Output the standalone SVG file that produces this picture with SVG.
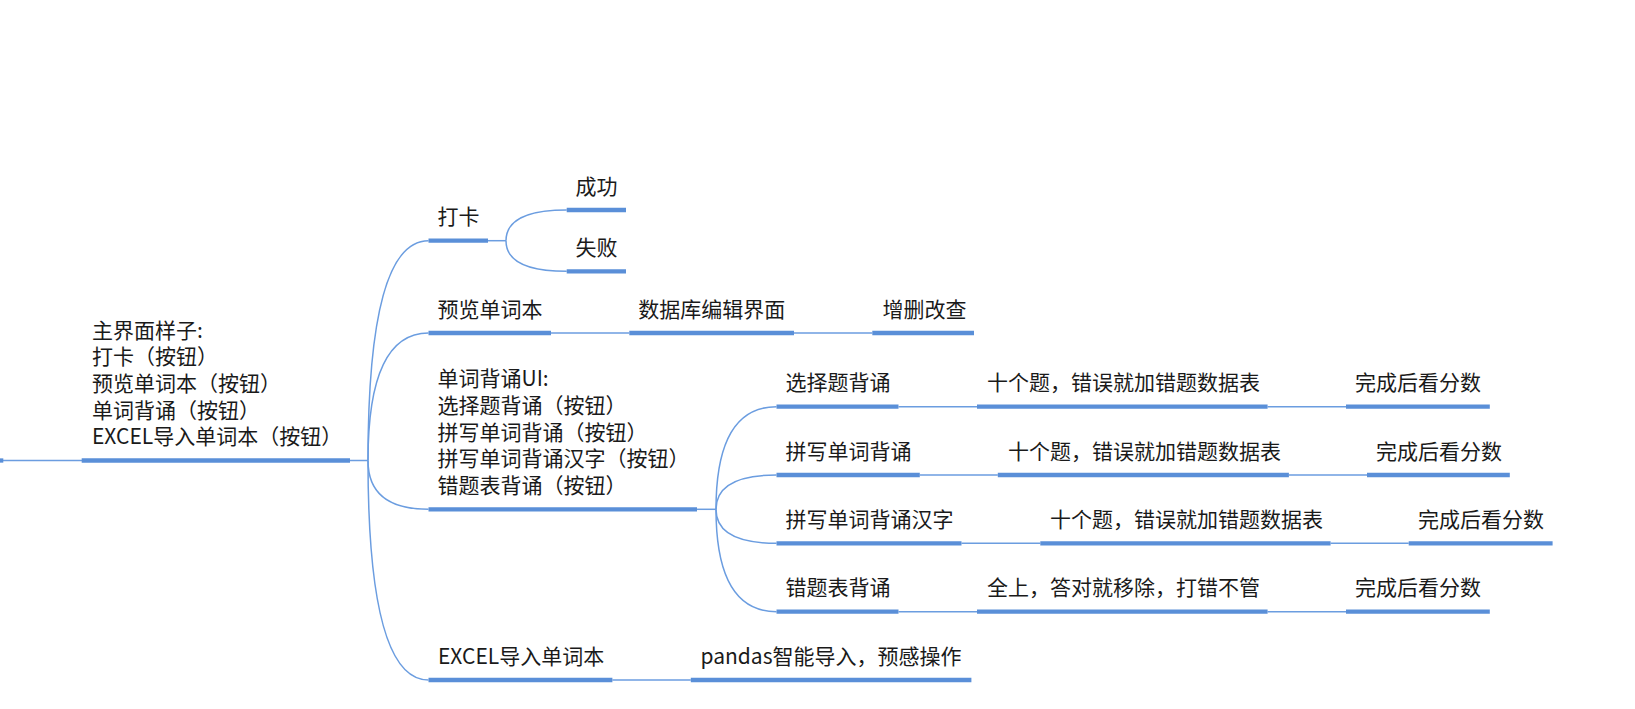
<svg xmlns="http://www.w3.org/2000/svg" width="1635" height="709" viewBox="0 0 1635 709">
<style>
.bar{stroke:#5a8fd8;stroke-width:4.3;fill:none}
.con{stroke:#6b9de0;stroke-width:1.5;fill:none}
text{font-family:"Noto Sans CJK SC","Microsoft YaHei","Noto Sans",sans-serif;font-size:21px;fill:#1a1a1a}
</style>
<rect width="1635" height="709" fill="#ffffff"/>
<g id="connectors">
<path class="con" d="M0,460.5 H368"/>
<path class="con" d="M368,460.5 Q368,240.7 428.5,240.7"/>
<path class="con" d="M368,460.5 Q368,333 428.5,333"/>
<path class="con" d="M368,460.5 Q368,509.3 428.5,509.3"/>
<path class="con" d="M368,460.5 Q368,680 428.5,680"/>
<path class="con" d="M488,240.7 H506"/>
<path class="con" d="M506,240.7 Q506,210 566.7,210"/>
<path class="con" d="M506,240.7 Q506,271.3 566.7,271.3"/>
<path class="con" d="M551,333 H629.3"/>
<path class="con" d="M794,333 H872.3"/>
<path class="con" d="M697,509.3 H716"/>
<path class="con" d="M716,509.3 Q716,406.7 776.5,406.7"/>
<path class="con" d="M716,509.3 Q716,475 776.5,475"/>
<path class="con" d="M716,509.3 Q716,543.3 776.5,543.3"/>
<path class="con" d="M716,509.3 Q716,611.7 776.5,611.7"/>
<path class="con" d="M898.5,406.7 H977"/>
<path class="con" d="M1267.6,406.7 H1346"/>
<path class="con" d="M919.8,475 H997.8"/>
<path class="con" d="M1288.9,475 H1367"/>
<path class="con" d="M961.5,543.3 H1040.3"/>
<path class="con" d="M1330.6,543.3 H1408.7"/>
<path class="con" d="M898.5,611.7 H977"/>
<path class="con" d="M1267.6,611.7 H1346"/>
<path class="con" d="M612.4,680 H690.8"/>
</g>
<g id="parent-stub"><path class="bar" d="M0,460.5 H3.3"/></g>
<g id="root">
<path class="bar" d="M81.7,460.5 H350"/>
<text x="92" y="337.5"><tspan x="92" y="337.5">主界面样子:</tspan><tspan x="92" dy="26.67">打卡（按钮）</tspan><tspan x="92" dy="26.67">预览单词本（按钮）</tspan><tspan x="92" dy="26.67">单词背诵（按钮）</tspan><tspan x="92" dy="26.67">EXCEL导入单词本（按钮）</tspan></text>
</g>
<g id="daka">
<path class="bar" d="M428.5,240.7 H488"/>
<text x="437.5" y="224.4">打卡</text>
</g>
<g id="chenggong">
<path class="bar" d="M566.7,210 H626"/>
<text x="575.5" y="193.7">成功</text>
</g>
<g id="shibai">
<path class="bar" d="M566.7,271.3 H626"/>
<text x="575.5" y="255">失败</text>
</g>
<g id="yulan">
<path class="bar" d="M428.5,333 H551"/>
<text x="437.5" y="316.7">预览单词本</text>
</g>
<g id="shujuku">
<path class="bar" d="M629.3,333 H794"/>
<text x="638.3" y="316.7">数据库编辑界面</text>
</g>
<g id="zengshan">
<path class="bar" d="M872.3,333 H974"/>
<text x="882.5" y="316.7">增删改查</text>
</g>
<g id="ui">
<path class="bar" d="M428.5,509.3 H697"/>
<text x="437.5" y="386.3"><tspan x="437.5" y="386.3">单词背诵UI:</tspan><tspan x="437.5" dy="26.67">选择题背诵（按钮）</tspan><tspan x="437.5" dy="26.67">拼写单词背诵（按钮）</tspan><tspan x="437.5" dy="26.67">拼写单词背诵汉字（按钮）</tspan><tspan x="437.5" dy="26.67">错题表背诵（按钮）</tspan></text>
</g>
<g id="xuanze">
<path class="bar" d="M776.5,406.7 H898.5"/>
<text x="785.5" y="390.4">选择题背诵</text>
</g>
<g id="xuanze-detail">
<path class="bar" d="M977,406.7 H1267.6"/>
<text x="987" y="390.4">十个题，错误就加错题数据表</text>
</g>
<g id="xuanze-score">
<path class="bar" d="M1346,406.7 H1489.8"/>
<text x="1355" y="390.4">完成后看分数</text>
</g>
<g id="pinxie">
<path class="bar" d="M776.5,475 H919.8"/>
<text x="785.5" y="458.7">拼写单词背诵</text>
</g>
<g id="pinxie-detail">
<path class="bar" d="M997.8,475 H1288.9"/>
<text x="1008" y="458.7">十个题，错误就加错题数据表</text>
</g>
<g id="pinxie-score">
<path class="bar" d="M1367,475 H1509.8"/>
<text x="1376" y="458.7">完成后看分数</text>
</g>
<g id="hanzi">
<path class="bar" d="M776.5,543.3 H961.5"/>
<text x="785.5" y="527">拼写单词背诵汉字</text>
</g>
<g id="hanzi-detail">
<path class="bar" d="M1040.3,543.3 H1330.6"/>
<text x="1050" y="527">十个题，错误就加错题数据表</text>
</g>
<g id="hanzi-score">
<path class="bar" d="M1408.7,543.3 H1552.6"/>
<text x="1418" y="527">完成后看分数</text>
</g>
<g id="cuoti">
<path class="bar" d="M776.5,611.7 H898.5"/>
<text x="785.5" y="595.4">错题表背诵</text>
</g>
<g id="cuoti-detail">
<path class="bar" d="M977,611.7 H1267.6"/>
<text x="987" y="595.4">全上，答对就移除，打错不管</text>
</g>
<g id="cuoti-score">
<path class="bar" d="M1346,611.7 H1489.8"/>
<text x="1355" y="595.4">完成后看分数</text>
</g>
<g id="excel">
<path class="bar" d="M428.5,680 H612.4"/>
<text x="438" y="663.7">EXCEL导入单词本</text>
</g>
<g id="pandas">
<path class="bar" d="M690.8,680 H971.4"/>
<text x="700.5" y="663.7">pandas智能导入，预感操作</text>
</g>
</svg>
